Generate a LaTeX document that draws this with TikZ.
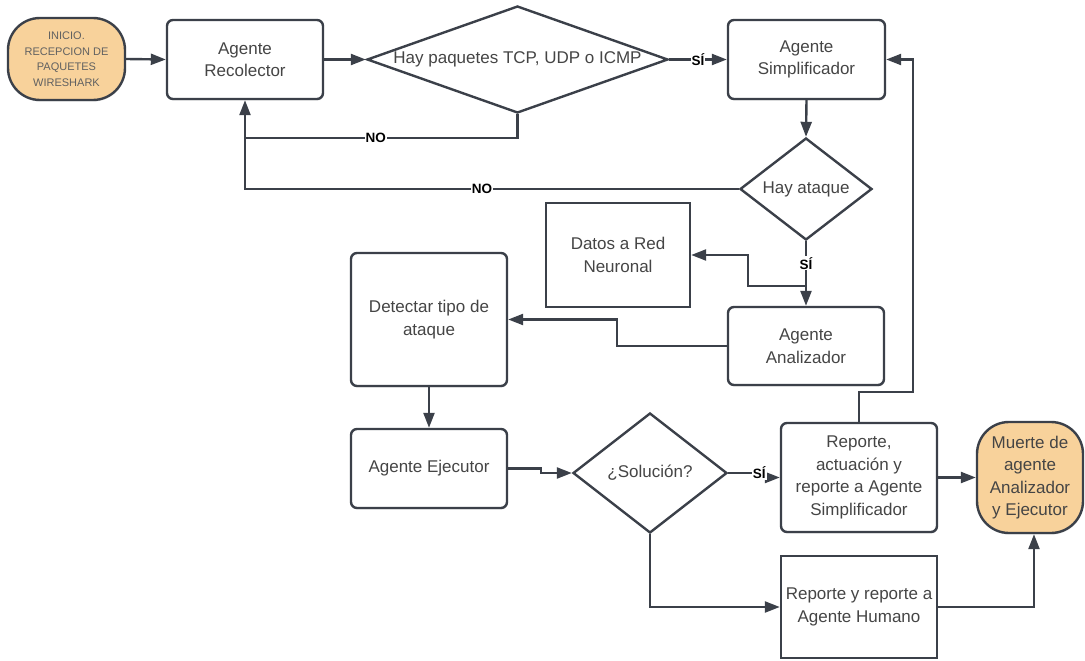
\documentclass[tikz,border=0pt]{standalone}
\usepackage{fontspec}
\setmainfont{Liberation Sans}
\usetikzlibrary{arrows.meta,shapes.geometric,shadows,calc}
\definecolor{lc}{HTML}{3B4049}
\definecolor{tc}{HTML}{454545}
\definecolor{term}{HTML}{F8D29B}
\tikzset{
  line/.style={draw=lc, line width=2.4pt},
  arr/.style={line, -{Triangle[length=15pt,width=11pt]}},
  txt/.style={text=tc, align=center, font=\fontsize{17}{22.5}\selectfont},
  proc/.style={txt, draw=lc, line width=2.4pt, rounded corners=6pt, fill=white,
    inner sep=0pt, drop shadow={opacity=0.18, shadow xshift=0.6pt, shadow yshift=-1.6pt}},
  plain/.style={txt, draw=lc, line width=2.4pt, fill=white, inner sep=0pt},
  terminal/.style={txt, draw=lc, line width=2.4pt, fill=term, rounded corners=32pt,
    inner sep=0pt, drop shadow={opacity=0.18, shadow xshift=0.6pt, shadow yshift=-1.6pt}},
  decision/.style={diamond, draw=lc, line width=2.4pt, fill=white, inner sep=0pt},
  lbl/.style={fill=white, text=black, inner sep=1pt, font=\bfseries\fontsize{13.5}{13.5}\selectfont},
}
\begin{document}
\begin{tikzpicture}[x=1pt, y=-1pt]
\useasboundingbox (0,0) rectangle (1085,661);

% nodes
\node[terminal, minimum width=117pt, minimum height=82pt,
      font=\fontsize{11}{15.5}\selectfont, text=tc!85] (start) at (66.5,59)
      {INICIO.\\RECEPCION DE\\PAQUETES\\WIRESHARK};
\node[proc, minimum width=156pt, minimum height=79pt] (rec) at (245,59.5) {Agente\\Recolector};
\node[decision, minimum width=301pt, minimum height=107pt] (d1) at (517.5,59.5) {};
\node[txt] at (d1) {Hay paquetes TCP, UDP o ICMP};
\node[proc, minimum width=157pt, minimum height=79pt] (simp) at (806.5,59.5) {Agente\\Simplificador};
\node[decision, minimum width=132pt, minimum height=102pt] (d2) at (806,189) {};
\node[txt] at (d2) {Hay ataque};
\node[plain, minimum width=144pt, minimum height=104pt] (datos) at (618,255) {Datos a Red\\Neuronal};
\node[proc, minimum width=156pt, minimum height=78pt] (ana) at (806,346) {Agente\\Analizador};
\node[proc, minimum width=156pt, minimum height=133pt] (det) at (429,319.5) {Detectar tipo de\\ataque};
\node[proc, minimum width=156pt, minimum height=79pt] (eje) at (429,468.5) {Agente Ejecutor};
\node[decision, minimum width=154pt, minimum height=120pt] (sol) at (650,473) {};
\node[txt] at (sol) {¿Solución?};
\node[proc, minimum width=156pt, minimum height=109pt] (rep) at (859,477.5)
      {Reporte,\\actuación y\\reporte a Agente\\Simplificador};
\node[terminal, minimum width=106pt, minimum height=111pt] (muerte) at (1030,477.5)
      {Muerte de\\agente\\Analizador\\y Ejecutor};
\node[plain, minimum width=156pt, minimum height=102pt] (hum) at (859,607)
      {Reporte y reporte a\\Agente Humano};

% connectors
\draw[arr] (start.east) -- (rec.west);
\draw[arr] (rec.east) -- (d1.west);
\draw[arr] (d1.east) -- node[lbl]{SÍ} (simp.west);

\coordinate (n1) at ($(d1.south)+(0,24)$);
\draw[line] (d2.west) -- node[lbl, pos=0.52]{NO} (rec.south |- d2.west) -- (rec.south |- n1);
\draw[arr] (d1.south) -- (n1) -- node[lbl, pos=0.52]{NO} (rec.south |- n1) -- (rec.south);

\draw[arr] (simp.south) -- (d2.north);
\draw[arr] (d2.south) -- node[lbl, pos=0.34]{SÍ} (ana.north);
\coordinate (b1) at ($(d2.south)+(0,45)$);
\draw[arr] (b1) -- ++(-58,0) |- (datos.east);

\draw[arr] (ana.west) -- ++(-110,0) |- (det.east);
\draw[arr] (det.south) -- (eje.north);
\draw[arr] (eje.east) -- ++(33,0) |- (sol.west);
\draw[arr] (sol.east) -- ++(31,0) node[lbl]{SÍ} |- (rep.west);
\draw[arr] (rep.east) -- (muerte.west);
\draw[arr] (rep.north) -- ++(0,-30) -| ($(simp.east)+(27,0)$) -- (simp.east);
\draw[arr] (sol.south) |- (hum.west);
\draw[arr] (hum.east) -| ($(muerte.south)+(4,0)$);
\end{tikzpicture}
\end{document}
